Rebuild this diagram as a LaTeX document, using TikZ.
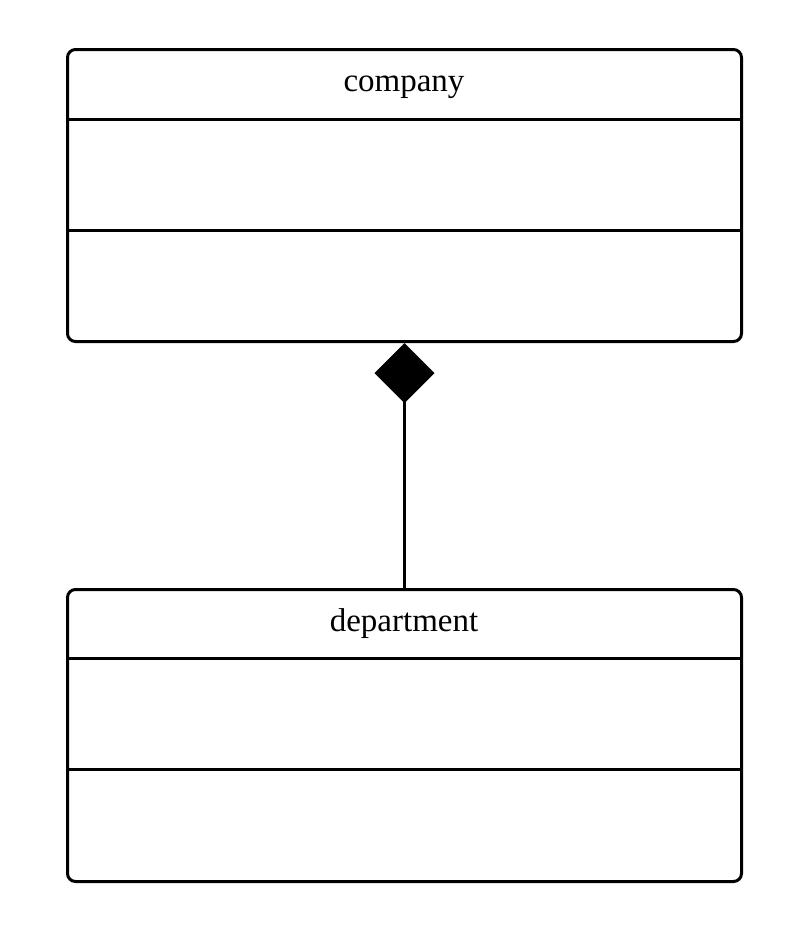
\documentclass[tikz,border=0pt]{standalone}
\usepackage{fontspec}
\setmainfont{Liberation Serif}
\usetikzlibrary{arrows.meta}
\begin{document}
\begin{tikzpicture}[x=1pt,y=-1pt,
  classbox/.style={draw,line width=3pt,rounded corners=8pt,minimum width=674pt,minimum height=292pt,inner sep=0pt,anchor=north west},
  divider/.style={line width=3pt},
  classname/.style={font=\fontsize{33}{36}\selectfont,anchor=base},
  composition/.style={line width=3pt,{Diamond[length=60pt,width=60pt,line width=0pt]}-}]
  \useasboundingbox (0,0) rectangle (801,938);
  % company class
  \node[classbox] (company) at (66,48) {};
  \draw[divider] (66,119) -- (740,119);
  \draw[divider] (66,230) -- (740,230);
  \node[classname] (companyname) at (404,91) {company};
  % department class
  \node[classbox] (department) at (66,588) {};
  \draw[divider] (66,658) -- (740,658);
  \draw[divider] (66,769) -- (740,769);
  \node[classname] (departmentname) at (404,631) {department};
  % composition link
  \draw[composition] (company.south) -- (department.north);
\end{tikzpicture}
\end{document}
